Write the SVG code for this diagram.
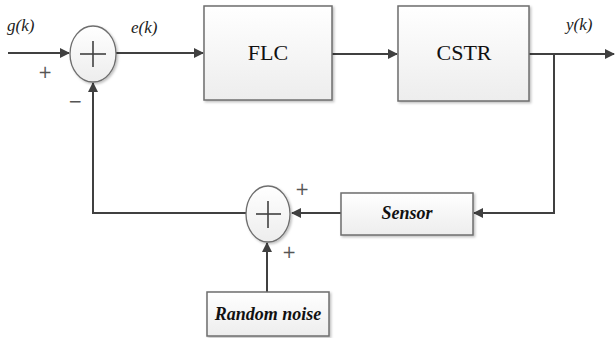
<svg xmlns="http://www.w3.org/2000/svg" width="615" height="338" viewBox="0 0 615 338">
<style>
.box{fill:url(#g);stroke:#6e6e6e;stroke-width:1.5;filter:url(#sh)}
.sum{fill:url(#g);stroke:#6e6e6e;stroke-width:1.3;filter:url(#sh)}
.ln{fill:none;stroke:#404040;stroke-width:2}
.cr{stroke:#404040;stroke-width:1.6}
.t{font-family:"Liberation Serif",serif;font-size:22px;fill:#111;text-anchor:middle}
.bi{font-family:"Liberation Serif",serif;font-size:18px;font-style:italic;font-weight:bold;fill:#111;text-anchor:middle}
.it{font-family:"Liberation Serif",serif;font-size:17px;font-style:italic;fill:#222}
.sg{font-family:"DejaVu Sans",sans-serif;font-size:17px;fill:#555;text-anchor:middle}
</style>
<defs>
<linearGradient id="g" x1="0" y1="0" x2="0" y2="1"><stop offset="0" stop-color="#ffffff"/><stop offset="1" stop-color="#ededed"/></linearGradient>
<filter id="sh" x="-10%" y="-10%" width="130%" height="130%"><feDropShadow dx="1.5" dy="1.5" stdDeviation="1" flood-color="#000" flood-opacity="0.25"/></filter>
<marker id="a" markerWidth="10" markerHeight="10" refX="9" refY="5" orient="auto" markerUnits="userSpaceOnUse"><path d="M0,0 L10,5 L0,10 Z" fill="#404040"/></marker>
</defs>
<g id="connectors">
<line class="ln" x1="8" y1="53" x2="69" y2="53" marker-end="url(#a)"/>
<line class="ln" x1="116" y1="53" x2="203" y2="53" marker-end="url(#a)"/>
<line class="ln" x1="332" y1="54" x2="397" y2="54" marker-end="url(#a)"/>
<line class="ln" x1="529" y1="54" x2="614" y2="54" marker-end="url(#a)"/>
<polyline class="ln" points="554,54 554,213 474,213" marker-end="url(#a)"/>
<line class="ln" x1="341" y1="213" x2="292" y2="213" marker-end="url(#a)"/>
<polyline class="ln" points="246,213 93,213 93,83" marker-end="url(#a)"/>
<line class="ln" x1="267" y1="292" x2="267" y2="243" marker-end="url(#a)"/>
</g>
<g id="sum1">
<ellipse class="sum" cx="93" cy="54" rx="23" ry="28"/>
<line class="cr" x1="80" y1="54" x2="106" y2="54"/>
<line class="cr" x1="93" y1="41" x2="93" y2="67"/>
</g>
<g id="flc">
<rect class="box" x="204" y="6" width="128" height="94"/>
<text class="t" x="268" y="60">FLC</text>
</g>
<g id="cstr">
<rect class="box" x="398" y="6" width="131" height="95"/>
<text class="t" x="464" y="60">CSTR</text>
</g>
<g id="sensor">
<rect class="box" x="341" y="193" width="132" height="42"/>
<text class="bi" x="407" y="219">Sensor</text>
</g>
<g id="sum2">
<ellipse class="sum" cx="268" cy="214" rx="22" ry="28"/>
<line class="cr" x1="256" y1="214" x2="281" y2="214"/>
<line class="cr" x1="268" y1="201" x2="268" y2="228"/>
</g>
<g id="noise">
<rect class="box" x="207" y="292" width="122" height="44"/>
<text class="bi" x="268" y="320">Random noise</text>
</g>
<g id="labels">
<text class="it" x="7" y="31">g(k)</text>
<text class="it" x="131" y="33">e(k)</text>
<text class="it" x="566" y="30">y(k)</text>
<text class="sg" x="45" y="78">+</text>
<text class="sg" x="75" y="107">−</text>
<text class="sg" x="302" y="195">+</text>
<text class="sg" x="289" y="258">+</text>
</g>
</svg>
